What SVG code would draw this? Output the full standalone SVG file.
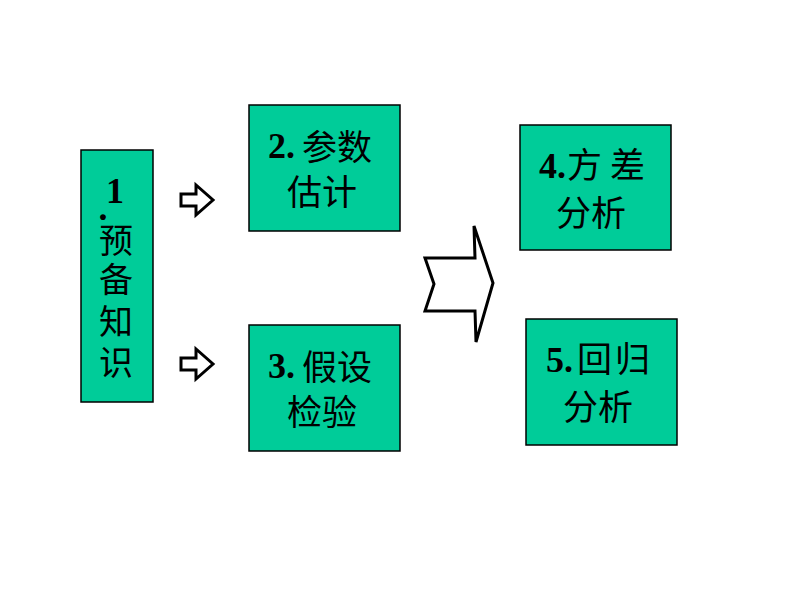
<svg xmlns="http://www.w3.org/2000/svg" width="800" height="600" viewBox="0 0 800 600">
<style>
.box{fill:#00CC99;stroke:#000;stroke-width:1.5}
.num{font-family:"Liberation Serif",serif;font-weight:bold;font-size:36px;fill:#000}
.cjk{font-family:"Noto Sans CJK SC","Noto Sans CJK JP",sans-serif;font-size:35px;fill:#000}
.v{font-size:34px}
.arr{fill:#fff;stroke:#000;stroke-width:3;stroke-linejoin:miter}
</style>
<rect width="800" height="600" fill="#fff"/>
<g id="node1">
<rect class="box" x="81" y="150" width="72" height="252"/>
<text text-anchor="middle"><tspan class="num" x="115" y="203">1</tspan><tspan class="num" x="103" y="220">.</tspan><tspan class="cjk v" x="116" y="253">预</tspan><tspan class="cjk v" x="116" y="292">备</tspan><tspan class="cjk v" x="116" y="334">知</tspan><tspan class="cjk v" x="116" y="375">识</tspan></text>
</g>
<g id="node2">
<rect class="box" x="249" y="105" width="151" height="126"/>
<text class="num" x="268" y="158">2.</text>
<text class="cjk" x="302" y="160">参数</text>
<text class="cjk" x="287" y="205">估计</text>
</g>
<g id="node3">
<rect class="box" x="249" y="325" width="151" height="126"/>
<text class="num" x="268" y="378">3.</text>
<text class="cjk" x="302" y="380">假设</text>
<text class="cjk" x="287" y="425">检验</text>
</g>
<g id="node4">
<rect class="box" x="520" y="125" width="151" height="125"/>
<text class="num" x="539" y="178">4.</text>
<text class="cjk" x="567" y="178">方</text>
<text class="cjk" x="610" y="178">差</text>
<text class="cjk" x="556" y="226">分析</text>
</g>
<g id="node5">
<rect class="box" x="526" y="319" width="151" height="126"/>
<text class="num" x="546" y="372">5.</text>
<text class="cjk" x="577" y="372">回</text>
<text class="cjk" x="615" y="372">归</text>
<text class="cjk" x="563" y="420">分析</text>
</g>
<g id="connectors">
<path class="arr" d="M181,194 L196,194 L196,185 L213,200 L196,215 L196,206 L181,206 Z"/>
<path class="arr" d="M181,358 L196,358 L196,349 L213,364 L196,379 L196,370 L181,370 Z"/>
<path class="arr" d="M425,258 L475,258 L474,226 L493,283 L476,342 L475,311 L425,311 L434,284 Z"/>
</g>
</svg>
